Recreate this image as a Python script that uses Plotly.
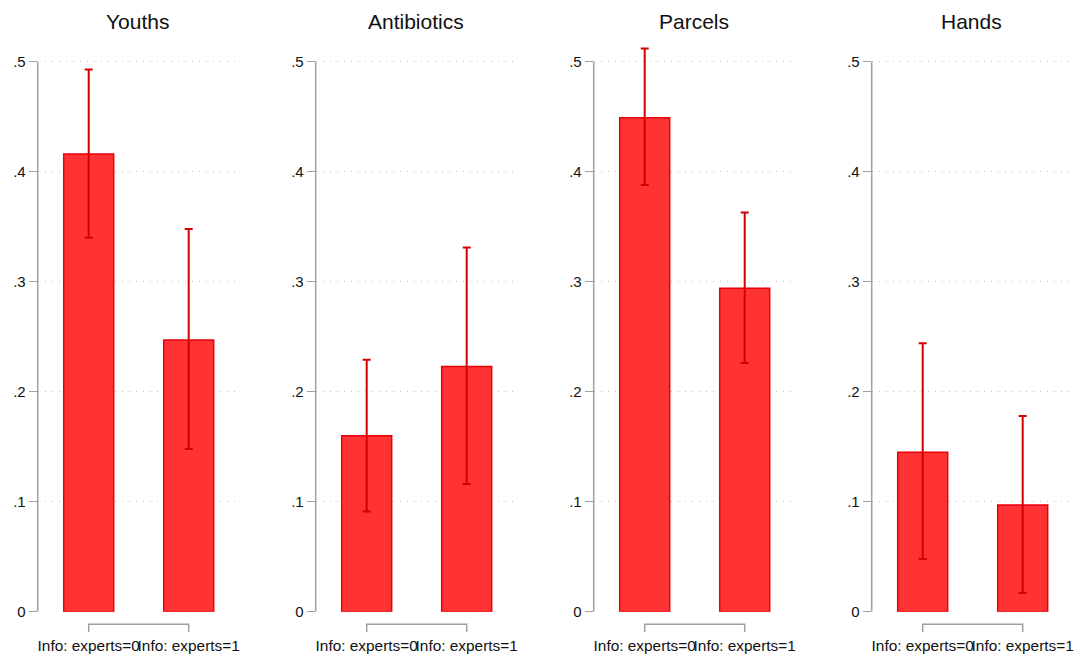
import plotly.graph_objects as go

# ---------------- data ----------------
panel_titles = ["Youths", "Antibiotics", "Parcels", "Hands"]
group_labels = ["Info: experts=0", "Info: experts=1"]
group_pos = [0, 1]

youths_mean = [0.416, 0.247]
youths_lo = [0.340, 0.148]
youths_hi = [0.493, 0.348]

antibiotics_mean = [0.160, 0.223]
antibiotics_lo = [0.091, 0.116]
antibiotics_hi = [0.229, 0.331]

parcels_mean = [0.449, 0.294]
parcels_lo = [0.388, 0.226]
parcels_hi = [0.512, 0.363]

hands_mean = [0.145, 0.097]
hands_lo = [0.048, 0.017]
hands_hi = [0.244, 0.178]

ytick_vals = [0, 0.1, 0.2, 0.3, 0.4, 0.5]
ytick_text = ["0", ".1", ".2", ".3", ".4", ".5"]

series = [
    (youths_mean, youths_lo, youths_hi),
    (antibiotics_mean, antibiotics_lo, antibiotics_hi),
    (parcels_mean, parcels_lo, parcels_hi),
    (hands_mean, hands_lo, hands_hi),
]

# ---------------- layout constants ----------------
W, H = 1074, 654
FONT = "Liberation Sans, Arial, Helvetica, sans-serif"
panel_left = 37.7
panel_step = 278.0
panel_w = 200.0
y0_px = 611.7   # pixel row of y = 0
ytop_px = 39.7  # pixel row of top of plot area
bar_fill = "#FF3333"
bar_line = "#E8000B"
err_col = "#D40000"
axis_gray = "#A0A0A0"
grid_gray = "#BEBEBE"


def py(px):
    return (H - px) / H


fig = go.Figure()
layout = dict(
    template="none",
    width=W, height=H,
    margin=dict(l=0, r=0, t=0, b=0, pad=0),
    paper_bgcolor="white", plot_bgcolor="white",
    showlegend=False,
    font=dict(family=FONT, size=15, color="#111111"),
    bargap=0.5,
)
shapes = []
annotations = []

for k, (title, (mean, lo, hi)) in enumerate(zip(panel_titles, series)):
    n = k + 1
    xa = "x" if n == 1 else f"x{n}"
    ya = "y" if n == 1 else f"y{n}"
    plus = [h - m for h, m in zip(hi, mean)]
    minus = [m - l for m, l in zip(mean, lo)]
    fig.add_trace(go.Bar(
        x=group_pos, y=mean, width=0.5,
        xaxis=xa, yaxis=ya,
        marker=dict(color=bar_fill, line=dict(color=bar_line, width=1.5)),
        error_y=dict(type="data", symmetric=False, array=plus, arrayminus=minus,
                     color=err_col, thickness=2, width=4),
    ))
    x0 = (panel_left + panel_step * k) / W
    x1 = (panel_left + panel_step * k + panel_w) / W
    xkey = "xaxis" if n == 1 else f"xaxis{n}"
    ykey = "yaxis" if n == 1 else f"yaxis{n}"
    layout[xkey] = dict(
        domain=[x0, x1], anchor=ya, range=[-0.51, 1.49],
        tickvals=group_pos, ticktext=group_labels, tickangle=0,
        ticks="", showline=False, showgrid=False, zeroline=False,
        automargin=False,
        ticklabelstandoff=23, tickfont=dict(size=15.4),
    )
    layout[ykey] = dict(
        domain=[py(y0_px), py(ytop_px)], anchor=xa, range=[0, 0.52],
        tickvals=ytick_vals, ticktext=ytick_text,
        ticks="outside", ticklen=8, tickcolor=axis_gray, tickwidth=1.3,
        showline=False, showgrid=True, gridcolor=grid_gray,
        griddash="1.5px,5.5px", automargin=False,
        gridwidth=1, zeroline=False, tickfont=dict(size=15),
    )
    # y axis line from 0 to .5
    shapes.append(dict(type="line", xref=f"{xa} domain", yref=ya,
                       x0=0, x1=0, y0=0, y1=0.5,
                       line=dict(color=axis_gray, width=1.5)))
    # bracket-style x axis under the bars
    yt = py(624.3)
    yb = py(632.0)
    shapes.append(dict(type="path", xref=xa, yref="paper",
                       path=f"M0,{yb} L0,{yt} L1,{yt} L1,{yb}",
                       line=dict(color=axis_gray, width=1.5)))
    annotations.append(dict(text=title, xref=f"{xa} domain", x=0.5,
                            yref="paper", y=py(21), xanchor="center",
                            yanchor="middle", showarrow=False,
                            font=dict(size=21, color="#111111")))

layout["shapes"] = shapes
layout["annotations"] = annotations
fig.update_layout(**layout)
fig.write_html("out.html",
               config={"displayModeBar": False},
               post_script="document.body.style.margin='0';document.body.style.padding='0';")
